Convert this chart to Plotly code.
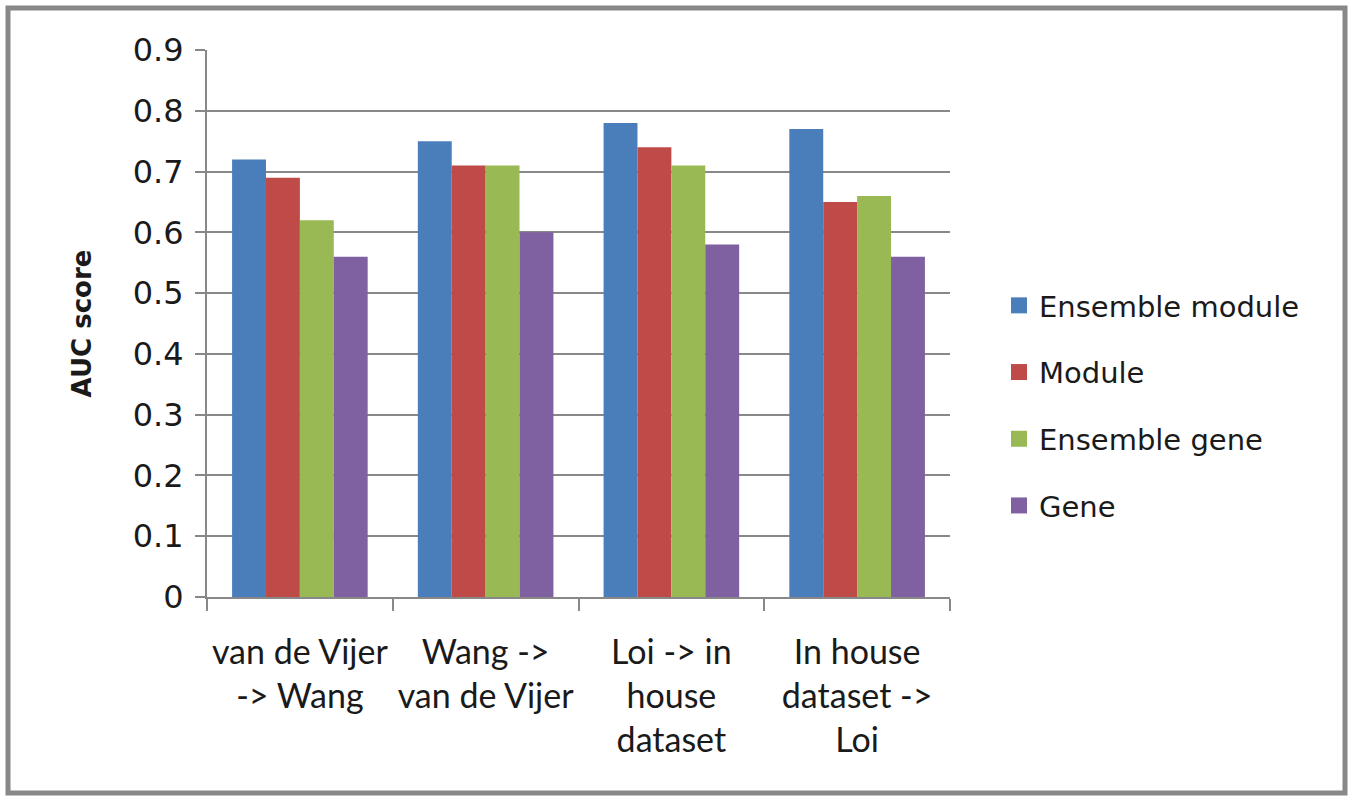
import plotly.graph_objects as go

categories = ["van de Vijer<br>-> Wang", "Wang -><br>van de Vijer", "Loi -> in<br>house<br>dataset", "In house<br>dataset -><br>Loi"]
series_names = ["Ensemble module", "Module", "Ensemble gene", "Gene"]
ensemble_module = [0.72, 0.75, 0.78, 0.77]
module = [0.69, 0.71, 0.74, 0.65]
ensemble_gene = [0.62, 0.71, 0.71, 0.66]
gene = [0.56, 0.60, 0.58, 0.56]
y_ticks = [0, 0.1, 0.2, 0.3, 0.4, 0.5, 0.6, 0.7, 0.8, 0.9]

colors = ["#4A7EBB", "#BE4B48", "#98B954", "#7F60A0"]
values = [ensemble_module, module, ensemble_gene, gene]

W, H = 1355, 800
L, R, T, B = 207, 950, 50, 597

fig = go.Figure()
for name, vals, c in zip(series_names, values, colors):
    fig.add_trace(go.Bar(x=categories, y=vals, name=name, legendgroup=name, showlegend=False,
                         marker=dict(color=c, line=dict(width=0))))
    # legend entry with a larger square swatch
    fig.add_trace(go.Scatter(x=[None], y=[None], mode="markers", name=name, legendgroup=name,
                             marker=dict(symbol="square", size=20, color=c, line=dict(width=0))))

fig.update_layout(
    width=W, height=H,
    margin=dict(l=L, r=W - R, t=T, b=H - B, autoexpand=False),
    paper_bgcolor="white", plot_bgcolor="white",
    barmode="group", bargap=0.27, bargroupgap=0,
    font=dict(family="DejaVu Sans", color="#1a1a1a"),
    showlegend=True,
    legend=dict(x=(999 - L) / (R - L), y=(B - 280) / (B - T), xanchor="left", yanchor="top",
                font=dict(size=29, family="DejaVu Sans"), tracegroupgap=26,
                itemwidth=30, bgcolor="rgba(0,0,0,0)"),
    xaxis=dict(showline=True, linecolor="#888888", linewidth=2, ticks="outside",
               tickson="boundaries", ticklen=12, tickcolor="#888888", tickwidth=2,
               tickangle=0,
               tickfont=dict(size=34, family="Lato"), ticklabelstandoff=24,
               showgrid=False),
    yaxis=dict(range=[0, 0.9001], tickvals=y_ticks, ticktext=[("%g" % v) for v in y_ticks],
               showline=True, linecolor="#888888", linewidth=2, ticks="outside",
               ticklen=10, tickcolor="#888888", tickwidth=2,
               showgrid=True, gridcolor="#888888", gridwidth=2, zeroline=False,
               tickfont=dict(size=32, family="DejaVu Sans"), ticklabelstandoff=5,
               title=dict(text="<b>AUC score</b>", font=dict(size=26, family="DejaVu Sans"), standoff=34)),
)

# outer border
def px_x(p):
    return (p - L) / (R - L)

def px_y(p):
    return (B - p) / (B - T)

fig.add_shape(type="rect", xref="paper", yref="paper",
              x0=px_x(8), x1=px_x(1345), y0=px_y(793), y1=px_y(8),
              line=dict(color="#888888", width=5), fillcolor="rgba(0,0,0,0)", layer="below")

fig.write_html("out.html")
